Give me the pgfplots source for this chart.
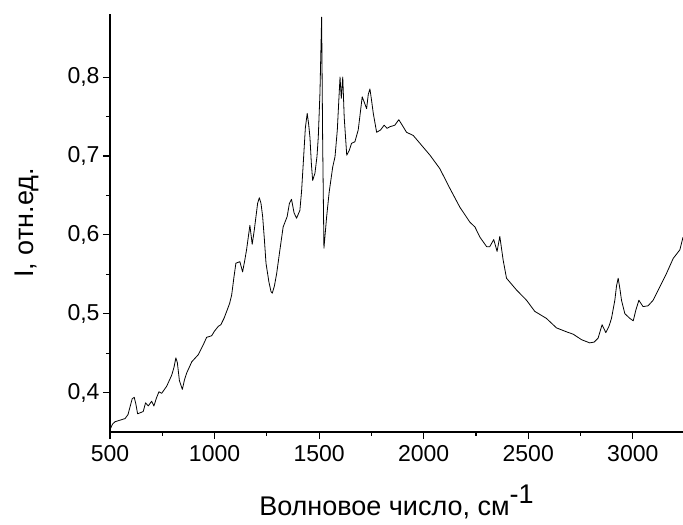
\documentclass[border=0pt]{standalone}
\usepackage{fontspec}
\setmainfont{Liberation Sans}
\usepackage{pgfplots}
\pgfplotsset{compat=1.18}
\begin{document}
\begin{tikzpicture}
\begin{axis}[
  name=ax,
  scale only axis,
  width=573bp, height=418bp,
  xmin=500, xmax=3240,
  ymin=0.35, ymax=0.88,
  axis x line*=bottom,
  axis y line*=left,
  axis line style={line width=1.2bp,-},
  tick align=outside,
  major tick length=7bp,
  minor tick length=4bp,
  every tick/.style={line width=1.1bp,black},
  xtick={500,1000,1500,2000,2500,3000},
  ytick={0.4,0.5,0.6,0.7,0.8},
  minor x tick num=1,
  minor y tick num=1,
  /pgf/number format/assume math mode=true,
  xticklabel style={/pgf/number format/1000 sep={},yshift=-3bp},
  yticklabel style={/pgf/number format/.cd,fixed,fixed zerofill,precision=1,use comma},
  tick label style={font=\fontsize{23bp}{27bp}\selectfont},
  xlabel={Волновое число, см\raisebox{12bp}{-1}},
  ylabel={I, отн.ед.},
  label style={font=\fontsize{27bp}{31bp}\selectfont},
  x label style={at={(axis description cs:0.5,-0.1986)},anchor=base},
  y label style={at={(axis description cs:-0.145,0.5)},anchor=center},
  clip=true,
]
\addplot[black, line width=0.8bp, line join=round] coordinates {
(500,0.353) (512,0.360) (524,0.363) (548,0.365) (572,0.367) (586,0.372) (596,0.382) (606,0.392) (616,0.394) (624,0.385) (632,0.373)
(659,0.376) (670,0.387) (683,0.383) (699,0.389) (710,0.383) (722,0.393) (734,0.401) (747,0.399)
(771,0.408) (795,0.422) (806,0.432) (815,0.444) (822,0.438) (832,0.415) (846,0.404) (856,0.416) (867,0.425) (891,0.439)
(922,0.448) (945,0.460) (962,0.470) (986,0.472) (1000,0.478) (1018,0.484) (1030,0.486) (1045,0.494) (1058,0.503) (1072,0.513) (1082,0.524)
(1092,0.545) (1102,0.564) (1121,0.566) (1134,0.553) (1144,0.567) (1153,0.581) (1169,0.612) (1180,0.588) (1190,0.606) (1198,0.623)
(1206,0.640) (1214,0.647) (1222,0.640) (1230,0.623) (1238,0.595) (1246,0.564) (1260,0.540) (1270,0.528) (1276,0.526) (1286,0.535) (1297,0.551) (1312,0.580) (1328,0.610) (1347,0.623)
(1358,0.640) (1368,0.645) (1380,0.628) (1392,0.621) (1408,0.631) (1416,0.655) (1424,0.690) (1434,0.735) (1443,0.754) (1450,0.740) (1456,0.724) (1463,0.690) (1469,0.669)
(1480,0.678) (1490,0.700) (1496,0.724) (1504,0.780) (1512,0.876) (1517,0.716) (1523,0.583) (1536,0.623) (1548,0.654)
(1565,0.686) (1576,0.699) (1587,0.733) (1595,0.775) (1600,0.800) (1606,0.773) (1613,0.800) (1620,0.749)
(1632,0.701) (1644,0.707) (1655,0.716) (1671,0.718) (1687,0.733) (1697,0.755) (1706,0.775) (1716,0.768) (1727,0.760) (1735,0.778)
(1743,0.785) (1751,0.770) (1759,0.754) (1775,0.730) (1794,0.733) (1811,0.739) (1825,0.735) (1838,0.737)
(1862,0.739) (1881,0.746) (1902,0.737) (1918,0.730) (1950,0.726) (1982,0.716) (2030,0.701)
(2077,0.684) (2125,0.659) (2173,0.635) (2221,0.616) (2245,0.610) (2269,0.597) (2301,0.585)
(2316,0.585) (2335,0.594) (2351,0.579) (2364,0.598) (2380,0.568) (2396,0.545) (2444,0.530)
(2492,0.517) (2531,0.503) (2587,0.494) (2635,0.482) (2683,0.477) (2715,0.474) (2755,0.467)
(2794,0.463) (2815,0.464) (2834,0.469) (2853,0.486) (2871,0.476) (2886,0.484) (2898,0.494) (2914,0.517) (2922,0.535) (2930,0.545)
(2938,0.532) (2946,0.517) (2962,0.500) (2986,0.494) (3002,0.491) (3015,0.505) (3029,0.517) (3049,0.509)
(3073,0.510) (3097,0.517) (3129,0.534) (3161,0.551) (3193,0.570) (3225,0.581) (3240,0.597)
};
\end{axis}
\pgfresetboundingbox
\path ([shift={(-110bp,-92.3bp)}]ax.south west) rectangle ([shift={(0bp,14bp)}]ax.north east);
\end{tikzpicture}
\end{document}
